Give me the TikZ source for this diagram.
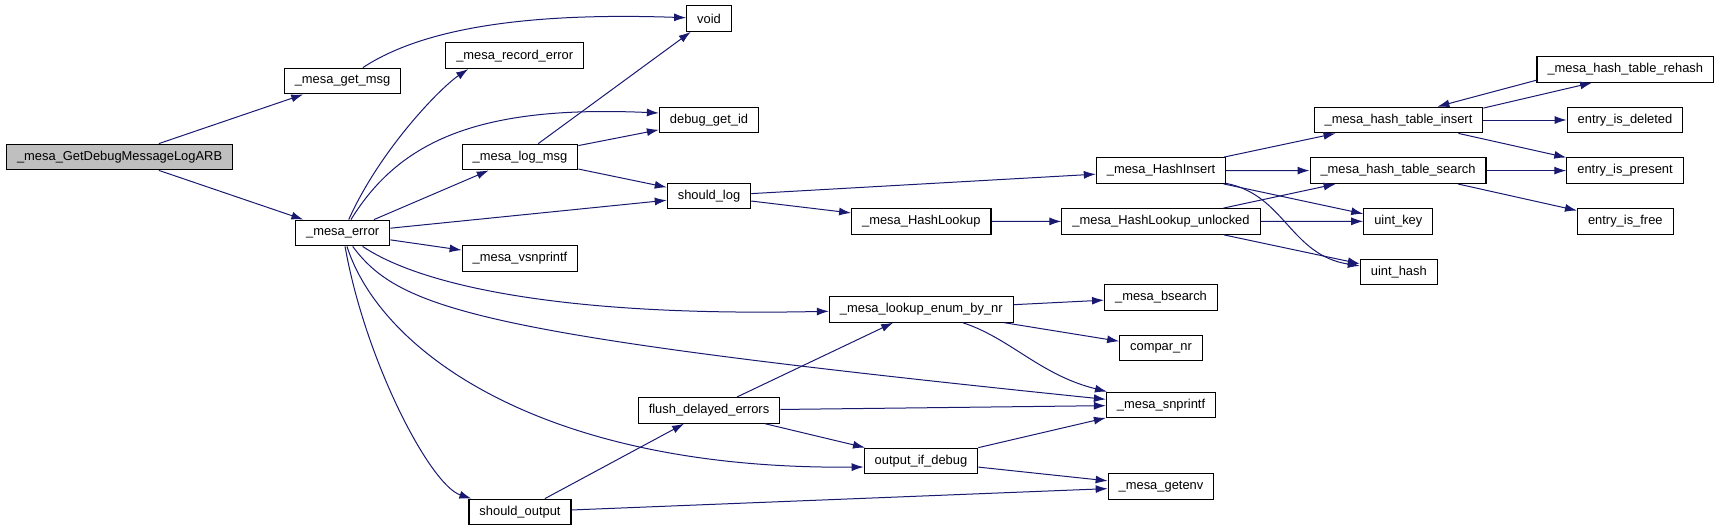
\documentclass[tikz,border=0pt]{standalone}
\usepackage{fontspec}
\setmainfont{Liberation Sans}
\usepackage{xcolor}
\usepackage{tikz}
\usetikzlibrary{arrows.meta}
\definecolor{edgeblue}{HTML}{191970}
\definecolor{rootgray}{HTML}{BFBFBF}

\begin{document}
\begin{tikzpicture}[x=1pt, y=-1pt,
    fn/.style={draw=black, line width=1.1pt, fill=white, minimum height=25.7pt,
               inner xsep=10.5pt, inner ysep=0pt, font=\fontsize{12.9}{14}\selectfont},
    call/.style={draw=edgeblue, line width=1pt, -{Latex[length=12pt,width=8pt]}}]
  \useasboundingbox (0,0) rectangle (1720,531);

  \node[fn, fill=rootgray] (root) at (119.6,157) {\_mesa\_GetDebugMessageLogARB};
  \node[fn] (getmsg) at (342.5,81) {\_mesa\_get\_msg};
  \node[fn] (err) at (342.7,233) {\_mesa\_error};
  \node[fn] (rec) at (514.7,55.7) {\_mesa\_record\_error};
  \node[fn] (logmsg) at (520,157) {\_mesa\_log\_msg};
  \node[fn] (vsn) at (520,258.5) {\_mesa\_vsnprintf};
  \node[fn] (sout) at (520,512) {should\_output};
  \node[fn] (void) at (709,18.5) {void};
  \node[fn] (dbgid) at (709,120) {debug\_get\_id};
  \node[fn] (slog) at (709,196) {should\_log};
  \node[fn] (flush) at (709,410.3) {flush\_delayed\_errors};
  \node[fn] (hlook) at (921.3,221.3) {\_mesa\_HashLookup};
  \node[fn] (lenum) at (921.3,309.3) {\_mesa\_lookup\_enum\_by\_nr};
  \node[fn] (outdbg) at (921,461) {output\_if\_debug};
  \node[fn] (hins) at (1161,170.5) {\_mesa\_HashInsert};
  \node[fn] (hlu) at (1161,221.5) {\_mesa\_HashLookup\_unlocked};
  \node[fn] (bsearch) at (1161,297.3) {\_mesa\_bsearch};
  \node[fn] (compar) at (1161,348) {compar\_nr};
  \node[fn] (snpr) at (1161,405) {\_mesa\_snprintf};
  \node[fn] (getenv) at (1161,486.5) {\_mesa\_getenv};
  \node[fn] (hti) at (1398.5,120) {\_mesa\_hash\_table\_insert};
  \node[fn] (hts) at (1398,170.6) {\_mesa\_hash\_table\_search};
  \node[fn] (ukey) at (1398.3,221.3) {uint\_key};
  \node[fn] (uhash) at (1398.8,272) {uint\_hash};
  \node[fn] (htr) at (1625.3,69.3) {\_mesa\_hash\_table\_rehash};
  \node[fn] (edel) at (1625,120) {entry\_is\_deleted};
  \node[fn] (epres) at (1625,170.6) {entry\_is\_present};
  \node[fn] (efree) at (1625.3,221.3) {entry\_is\_free};

  \draw[call] (root) -- (getmsg);
  \draw[call] (root) -- (err);
  \draw[call] (getmsg) .. controls (420,30) and (520,12) .. (void);
  \draw[call] (err) .. controls (380,150) and (440,88) .. ([xshift=23pt]rec.south west);
  \draw[call] (err) .. controls (400,140) and (480,105) .. ([yshift=7pt]dbgid.west);
  \draw[call] (err) -- (logmsg);
  \draw[call] (err) -- (slog);
  \draw[call] (err) -- (vsn);
  \draw[call] (err) .. controls (420,285) and (560,317) .. (lenum);
  \draw[call] (err) .. controls (400,310) and (480,335) .. (snpr);
  \draw[call] (err) .. controls (380,350) and (540,470) .. ([yshift=-6pt]outdbg.west);
  \draw[call] (err) .. controls (365,360) and (430,485) .. ([xshift=3pt]sout.north west);
  \draw[call] (logmsg) -- (void);
  \draw[call] (logmsg) -- (dbgid);
  \draw[call] (logmsg) -- (slog);
  \draw[call] (slog) -- (hins);
  \draw[call] (slog) -- (hlook);
  \draw[call] (hlook) -- (hlu);
  \draw[call] (hins) -- (hti);
  \draw[call] (hins) -- (hts);
  \draw[call] (hins) -- (ukey);
  \draw[call] (hins) .. controls (1285,195) and (1290,255) .. (uhash);
  \draw[call] (hlu) -- (hts);
  \draw[call] (hlu) -- (ukey);
  \draw[call] (hlu) -- (uhash);
  \draw[call] (hti.8) -- (htr.202);
  \draw[call] (htr.187) -- (hti.19);
  \draw[call] (hti) -- (edel);
  \draw[call] (hti) -- (epres);
  \draw[call] (hts) -- (epres);
  \draw[call] (hts) -- (efree);
  \draw[call] (lenum) -- (bsearch);
  \draw[call] (lenum) -- (compar);
  \draw[call] (lenum) .. controls (1010,338) and (1040,375) .. (snpr);
  \draw[call] (flush) -- (lenum);
  \draw[call] (flush) -- (snpr);
  \draw[call] (flush) -- (outdbg);
  \draw[call] (sout) -- (flush);
  \draw[call] (sout) -- (getenv);
  \draw[call] (outdbg) -- (snpr);
  \draw[call] (outdbg) -- (getenv);
\end{tikzpicture}
\end{document}
